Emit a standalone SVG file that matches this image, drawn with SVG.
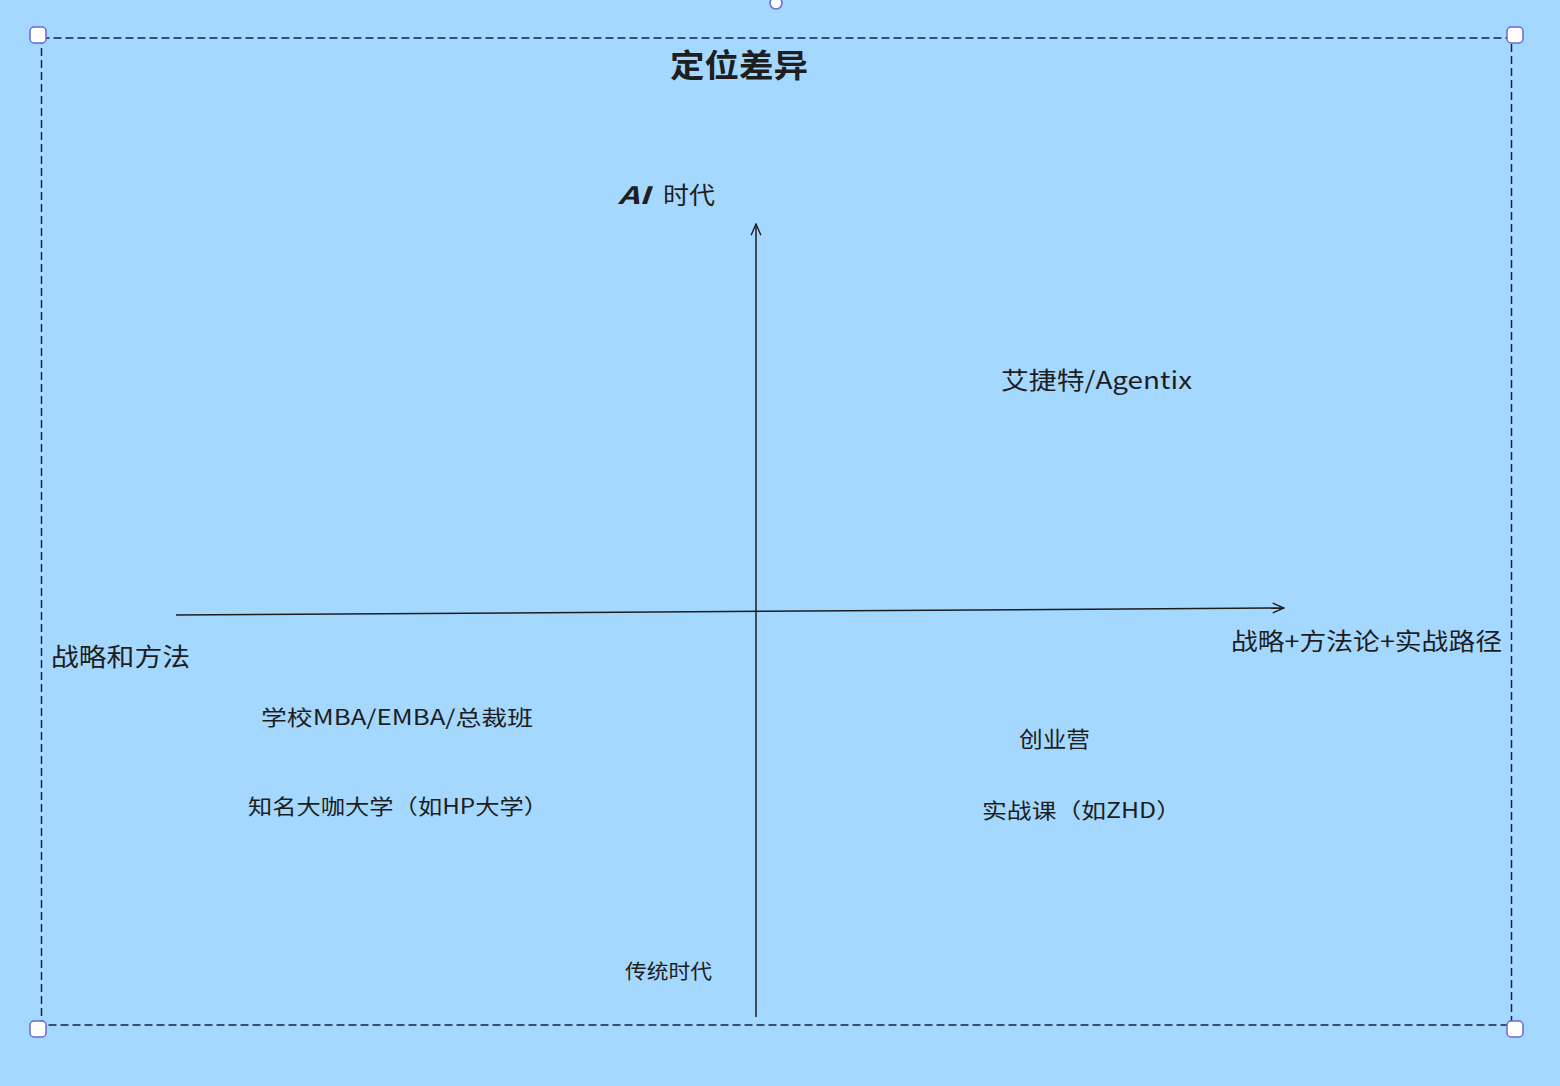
<svg xmlns="http://www.w3.org/2000/svg" width="1560" height="1086" viewBox="0 0 1560 1086">
<style>
.t{font-family:"Noto Sans CJK SC","Noto Sans",sans-serif;fill:#1e1e1e;}
.ax{stroke:#1e1e1e;stroke-width:1.5;fill:none;}
.h{fill:#ffffff;stroke:#6965db;stroke-width:1.5;}
</style>
<defs>
<marker id="arr" viewBox="0 0 20 20" refX="18" refY="10" markerWidth="14" markerHeight="14" markerUnits="userSpaceOnUse" orient="auto">
<path d="M2 3 L18 10 L2 17" fill="none" stroke="#1e1e1e" stroke-width="2"/>
</marker>
</defs>
<rect width="1560" height="1086" fill="#a5d8ff"/>
<g id="frame">
<rect x="41.5" y="38" width="1470" height="987" fill="none" stroke="#1e1e3e" stroke-width="1.5" stroke-dasharray="8 4"/>
<rect class="h" x="30" y="27" width="16" height="16" rx="4"/>
<rect class="h" x="1507" y="27" width="16" height="16" rx="4"/>
<rect class="h" x="30" y="1021" width="16" height="16" rx="4"/>
<rect class="h" x="1507" y="1021" width="16" height="16" rx="4"/>
<circle class="h" cx="776" cy="3" r="6"/>
</g>
<g id="connectors">
<path class="ax" d="M176 615 L1284 608" marker-end="url(#arr)"/>
<path class="ax" d="M756 1017 L756 224" marker-end="url(#arr)"/>
</g>
<g id="title"><text class="t" x="670" y="77" font-size="32" font-weight="bold" textLength="138" lengthAdjust="spacingAndGlyphs">定位差异</text></g>
<g id="ai"><text class="t" x="618" y="204" font-size="24"><tspan font-style="italic" font-weight="bold" textLength="32" lengthAdjust="spacingAndGlyphs">AI</tspan><tspan x="663" textLength="52" lengthAdjust="spacingAndGlyphs">时代</tspan></text></g>
<g id="trad"><text class="t" x="625" y="979" font-size="20" textLength="87" lengthAdjust="spacingAndGlyphs">传统时代</text></g>
<g id="left"><text class="t" x="51" y="666" font-size="25" textLength="139" lengthAdjust="spacingAndGlyphs">战略和方法</text></g>
<g id="right"><text class="t" x="1231" y="650" font-size="24" textLength="271" lengthAdjust="spacingAndGlyphs">战略+方法论+实战路径</text></g>
<g id="agentix"><text class="t" x="1001" y="389" font-size="24" textLength="191" lengthAdjust="spacingAndGlyphs">艾捷特/Agentix</text></g>
<g id="mba"><text class="t" x="261" y="725" font-size="21" textLength="272" lengthAdjust="spacingAndGlyphs">学校MBA/EMBA/总裁班</text></g>
<g id="hp"><text class="t" x="248" y="814" font-size="21" textLength="300" lengthAdjust="spacingAndGlyphs">知名大咖大学（如HP大学）</text></g>
<g id="camp"><text class="t" x="1019" y="747" font-size="22" textLength="71" lengthAdjust="spacingAndGlyphs">创业营</text></g>
<g id="zhd"><text class="t" x="982" y="818" font-size="21" textLength="199" lengthAdjust="spacingAndGlyphs">实战课（如ZHD）</text></g>
</svg>
